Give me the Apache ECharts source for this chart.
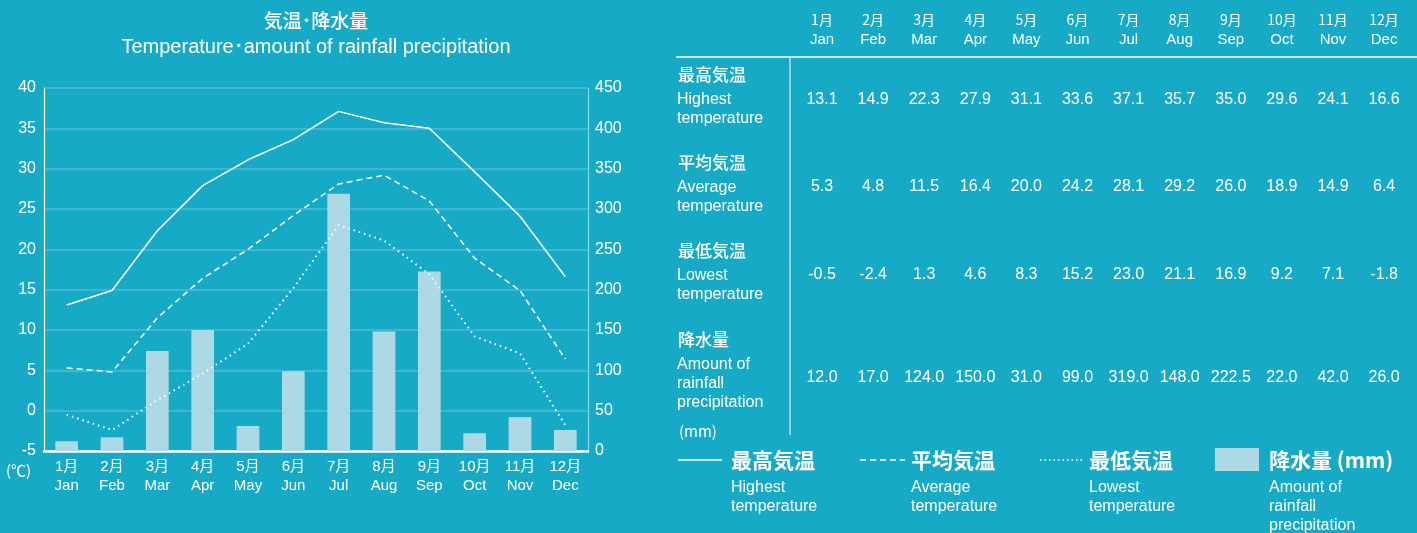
<!DOCTYPE html>
<html><head><meta charset="utf-8">
<script src="https://cdn.jsdelivr.net/npm/echarts@6/dist/echarts.min.js"></script>
<style>html,body{margin:0;padding:0;background:#17aac7;}#c{width:1417px;height:533px;}</style>
</head><body><div id="c"></div>
<script>
const monthsJP = ['1月','2月','3月','4月','5月','6月','7月','8月','9月','10月','11月','12月'];
const monthsEN = ['Jan','Feb','Mar','Apr','May','Jun','Jul','Aug','Sep','Oct','Nov','Dec'];
const highest = [13.1,14.9,22.3,27.9,31.1,33.6,37.1,35.7,35.0,29.6,24.1,16.6];
const average = [5.3,4.8,11.5,16.4,20.0,24.2,28.1,29.2,26.0,18.9,14.9,6.4];
const lowest = [-0.5,-2.4,1.3,4.6,8.3,15.2,23.0,21.1,16.9,9.2,7.1,-1.8];
const rainfall = [12.0,17.0,124.0,150.0,31.0,99.0,319.0,148.0,222.5,22.0,42.0,26.0];
const tempTicks = [-5,0,5,10,15,20,25,30,35,40];
const rainTicks = [0,50,100,150,200,250,300,350,400,450];

const FONT = '"Liberation Sans", "Noto Sans CJK JP", sans-serif';
const JFONT = '"Noto Sans CJK JP", "Liberation Sans", sans-serif';
const W = '#ffffff';
const categories = monthsJP.map((m,i)=>m+'\n'+monthsEN[i]);

const graphic = [];
function txt(x,y,t,o){ graphic.push(Object.assign({type:'text',x:x,y:y,style:Object.assign({text:t,fill:W,font:'15px '+FONT,textVerticalAlign:'middle'},o||{})})); }

// title
txt(316,21,'気温･降水量',{font:'500 19px '+JFONT,textAlign:'center'});
txt(316,47,'Temperature･amount of rainfall precipitation',{font:'20px '+FONT,textAlign:'center'});
txt(6,470,'(℃)',{font:'15px '+JFONT});

// table
const colX = monthsJP.map((_,i)=>822+i*51.1);
monthsJP.forEach((m,i)=>{
  txt(colX[i],20,m,{font:'14px '+JFONT,textAlign:'center'});
  txt(colX[i],40,monthsEN[i],{font:'15px '+FONT,textAlign:'center'});
});
graphic.push({type:'line',shape:{x1:676,y1:57,x2:1417,y2:57},style:{stroke:W,lineWidth:1.5}});
graphic.push({type:'line',shape:{x1:790,y1:57,x2:790,y2:435},style:{stroke:W,lineWidth:1}});
const rows = [
  {jp:'最高気温',en:['Highest','temperature'],vals:highest,y:75,vy:100},
  {jp:'平均気温',en:['Average','temperature'],vals:average,y:163,vy:187},
  {jp:'最低気温',en:['Lowest','temperature'],vals:lowest,y:251,vy:275},
  {jp:'降水量',en:['Amount of','rainfall','precipitation'],vals:rainfall,y:340,vy:378}
];
rows.forEach(r=>{
  txt(678,r.y,r.jp,{font:'500 17px '+JFONT});
  r.en.forEach((e,k)=>txt(677,r.y+25+k*19,e,{font:'16px '+FONT}));
  r.vals.forEach((v,i)=>txt(colX[i],r.vy,v.toFixed(1),{font:'16px '+FONT,textAlign:'center'}));
});
txt(679,431,'(mm)',{font:'15px '+JFONT});

// legend
const LY = 460;
graphic.push({type:'line',shape:{x1:678,y1:LY,x2:722,y2:LY},style:{stroke:W,lineWidth:1.5}});
graphic.push({type:'line',shape:{x1:860,y1:LY,x2:905,y2:LY},style:{stroke:W,lineWidth:1.5,lineDash:[6,4]}});
graphic.push({type:'line',shape:{x1:1040,y1:LY,x2:1083,y2:LY},style:{stroke:W,lineWidth:1.5,lineDash:[1.5,3]}});
graphic.push({type:'rect',shape:{x:1215,y:448,width:44,height:23},style:{fill:'#add8e6'}});
txt(731,LY,'最高気温',{font:'bold 21px '+JFONT});
txt(911,LY,'平均気温',{font:'bold 21px '+JFONT});
txt(1089,LY,'最低気温',{font:'bold 21px '+JFONT});
txt(1269,LY,'降水量 (mm)',{font:'bold 21px '+JFONT});
[['Highest','temperature',731],['Average','temperature',911],['Lowest','temperature',1089]].forEach(a=>{
  txt(a[2],488,a[0],{font:'16px '+FONT}); txt(a[2],507,a[1],{font:'16px '+FONT});
});
txt(1269,488,'Amount of',{font:'16px '+FONT});
txt(1269,507,'rainfall',{font:'16px '+FONT});
txt(1269,526,'precipitation',{font:'16px '+FONT});

const chart = echarts.init(document.getElementById('c'));
chart.setOption({
  backgroundColor:'#17aac7',
  animation:false,
  grid:{left:44,right:829,top:88,bottom:82,containLabel:false},
  xAxis:{type:'category',data:categories,boundaryGap:true,
    axisLine:{onZero:false,lineStyle:{color:W,width:2.5}},axisTick:{show:false},
    axisLabel:{color:W,fontFamily:FONT,fontSize:15,lineHeight:19,margin:6,interval:0}},
  yAxis:[
    {type:'value',min:tempTicks[0],max:tempTicks[tempTicks.length-1],interval:5,
     axisLine:{show:true,lineStyle:{color:W,width:1.2}},axisTick:{show:false},
     axisLabel:{color:W,fontFamily:FONT,fontSize:16,margin:8},
     splitLine:{lineStyle:{color:'rgba(255,255,255,0.22)',width:1.5}}},
    {type:'value',min:rainTicks[0],max:rainTicks[rainTicks.length-1],interval:50,
     axisLine:{show:true,lineStyle:{color:'rgba(255,255,255,0.5)',width:1.2}},axisTick:{show:false},
     axisLabel:{color:W,fontFamily:FONT,fontSize:16,margin:7},
     splitLine:{show:false}}
  ],
  series:[
    {type:'bar',yAxisIndex:1,data:rainfall,barWidth:'50%',itemStyle:{color:'#add8e6'},z:1},
    {type:'line',data:highest,symbol:'none',lineStyle:{color:W,width:1.5},z:3},
    {type:'line',data:average,symbol:'none',lineStyle:{color:W,width:1.5,type:[6,4]},z:3},
    {type:'line',data:lowest,symbol:'none',lineStyle:{color:W,width:2,type:[1.5,4]},z:3}
  ],
  graphic:graphic
});
</script></body></html>
